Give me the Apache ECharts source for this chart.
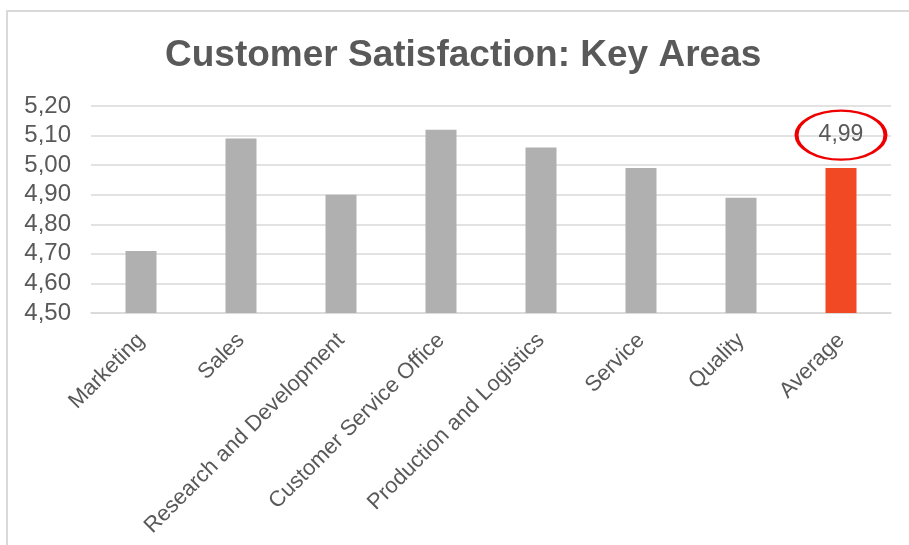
<!DOCTYPE html>
<html>
<head>
<meta charset="utf-8">
<script src="https://cdn.jsdelivr.net/npm/echarts@6/dist/echarts.min.js"></script>
<style>
  body { margin: 0; background: #fff; }
  #frame { position: absolute; left: 6px; top: 10px; width: 1000px; height: 1000px;
    border-left: 2px solid #d9d9d9; border-top: 2px solid #d9d9d9; }
  #main { position: absolute; left: 0; top: 0; width: 909px; height: 545px; }
</style>
</head>
<body>
<div id="frame"></div>
<div id="main"></div>
<script>
  let areas = ['Marketing', 'Sales', 'Research and Development', 'Customer Service Office',
    'Production and Logistics', 'Service', 'Quality', 'Average']
  let scores = [4.71, 5.09, 4.90, 5.12, 5.06, 4.99, 4.89, 4.99]
  let yMin = 4.5
  let yMax = 5.2
  let yStep = 0.1

  let textColor = '#595959'
  let font = 'Liberation Sans, Arial, sans-serif'

  function comma(v) {
    return Number(v).toFixed(2).replace('.', ',')
  }

  let barData = []
  for (let i = 0; i < scores.length; i++) {
    if (areas[i] === 'Average')
      barData.push({value: scores[i], itemStyle: {color: '#f04923'}})
    else
      barData.push(scores[i])
  }
  let avgIndex = areas.indexOf('Average')

  let chart = echarts.init(document.getElementById('main'))

  chart.setOption({
    animation: false,
    title: {
      text: 'Customer Satisfaction: Key Areas',
      left: 160,
      top: 32,
      textStyle: {fontFamily: font, fontSize: 37, fontWeight: 'bold', color: textColor}
    },
    grid: {left: 91, right: 18, top: 106, bottom: 232},
    xAxis: {
      type: 'category',
      data: areas,
      axisTick: {show: false},
      axisLine: {lineStyle: {color: '#d9d9d9', width: 1.5}},
      axisLabel: {
        rotate: 45,
        interval: 0,
        margin: 24,
        fontFamily: font,
        fontSize: 22,
        color: textColor
      }
    },
    yAxis: {
      type: 'value',
      min: yMin,
      max: yMax,
      interval: yStep,
      axisLine: {show: false},
      axisTick: {show: false},
      splitLine: {lineStyle: {color: '#d9d9d9', width: 1.5}},
      axisLabel: {
        margin: 20,
        fontFamily: font,
        fontSize: 24,
        color: textColor,
        formatter: comma
      }
    },
    series: [
      {
        type: 'bar',
        data: barData,
        barWidth: 31,
        itemStyle: {color: '#b0b0b0'},
        markPoint: {
          silent: true,
          symbol: 'path://M0,50A50,50,0,1,1,100,50A50,50,0,1,1,0,50Z',
          symbolSize: [89, 49],
          symbolOffset: [0, -33],
          itemStyle: {color: 'rgba(0,0,0,0)', borderColor: '#ee0000', borderWidth: 3},
          label: {
            show: true,
            position: 'inside',
            fontFamily: font,
            fontSize: 23,
            color: textColor,
            formatter: function (p) {
              return comma(p.value)
            }
          },
          data: [{coord: [avgIndex, scores[avgIndex]], value: scores[avgIndex]}]
        }
      }
    ]
  })
</script>
</body>
</html>
